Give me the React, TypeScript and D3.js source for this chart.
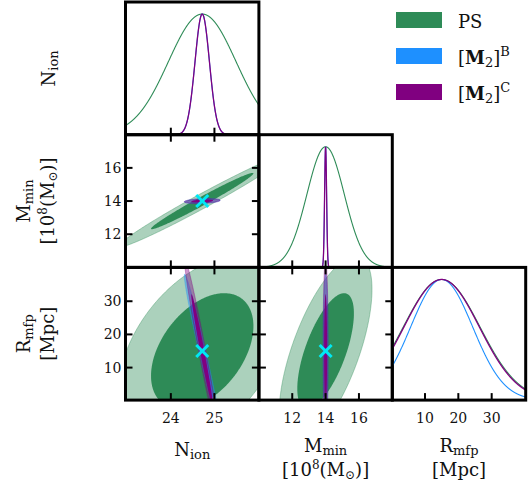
import React from "react";
import * as d3 from "d3";

// ---------- data ----------
const PARAM_KEYS = ["N_ion", "M_min", "R_mfp"];
const FIDUCIAL = [24.72, 14.0, 15.0];
const DOMAIN_LO = [22.96, 10.0, 0.2];
const DOMAIN_HI = [26.02, 18.0, 40.2];
const TICKS_N = [24, 25];
const TICKS_M = [12, 14, 16];
const TICKS_R = [10, 20, 30];

const SERIES_NAMES = ["PS", "M2B", "M2C"];
const SERIES_COLORS = ["#2e8b57", "#1e90ff", "#800080"];
// 1-sigma widths per parameter [N_ion, M_min, R_mfp]
const SIGMA_PS = [0.775, 1.12, 11.5];
const SIGMA_B = [0.165, 0.06, 9.3];
const SIGMA_C = [0.165, 0.06, 11.3];
// correlations [N-M, N-R, M-R]
const CORR_PS = [0.984, 0.43, 0.65];
const CORR_B = [0.3, -0.98, 0.0];
const CORR_C = [0.3, -0.98, 0.0];
const CONTOUR_PROBS = [0.9545, 0.6827];

// ---------- layout ----------
const COL_X = [125.5, 258.9, 392.3];
const ROW_Y = [2, 134.7, 267.4];
const PW = 133.4;
const PH = 132.7;
const FONT = "'DejaVu Serif', serif";

const TICKS = [TICKS_N, TICKS_M, TICKS_R];
const SIGMAS = [SIGMA_PS, SIGMA_B, SIGMA_C];
const CORRS = [CORR_PS, CORR_B, CORR_C];

function corrIndex(a: number, b: number) {
  const lo = Math.min(a, b), hi = Math.max(a, b);
  if (lo === 0 && hi === 1) return 0;
  if (lo === 0 && hi === 2) return 1;
  return 2;
}

function xScale(j: number) {
  return d3.scaleLinear().domain([DOMAIN_LO[j], DOMAIN_HI[j]]).range([COL_X[j], COL_X[j] + PW]);
}
function yScale(i: number) {
  return d3.scaleLinear().domain([DOMAIN_LO[i], DOMAIN_HI[i]]).range([ROW_Y[i] + PH, ROW_Y[i]]);
}

function ellipsePath(s: number, j: number, i: number, prob: number) {
  const k = Math.sqrt(-2 * Math.log(1 - prob));
  const sx = SIGMAS[s][j], sy = SIGMAS[s][i];
  const rho = CORRS[s][corrIndex(i, j)];
  const mx = FIDUCIAL[j], my = FIDUCIAL[i];
  const xs = xScale(j), ys = yScale(i);
  const pts: [number, number][] = d3.range(0, 360).map((deg) => {
    const t = (deg * Math.PI) / 180;
    const c = Math.cos(t), sn = Math.sin(t);
    const x = mx + k * sx * c;
    const y = my + k * sy * (rho * c + Math.sqrt(1 - rho * rho) * sn);
    return [xs(x), ys(y)];
  });
  return d3.line().curve(d3.curveLinearClosed)(pts) as string;
}

function marginalPath(s: number, j: number) {
  const xs = xScale(j);
  const ys = d3.scaleLinear().domain([0, 1.1]).range([ROW_Y[j] + PH, ROW_Y[j]]);
  const mu = FIDUCIAL[j], sg = SIGMAS[s][j];
  const n = 1200;
  const pts: [number, number][] = d3.range(n + 1).map((q) => {
    const x = DOMAIN_LO[j] + ((DOMAIN_HI[j] - DOMAIN_LO[j]) * q) / n;
    const v = Math.exp(-0.5 * ((x - mu) / sg) ** 2);
    return [xs(x), ys(v)];
  });
  return d3.line()(pts) as string;
}

function lighten(c: string, a: number) {
  const col = d3.rgb(c);
  return d3.rgb(255 - a * (255 - col.r), 255 - a * (255 - col.g), 255 - a * (255 - col.b)).formatHex();
}

function Panel2D({ i, j }: { i: number; j: number }) {
  const id = `clip-${i}-${j}`;
  const xs = xScale(j), ys = yScale(i);
  const x0 = COL_X[j], y0 = ROW_Y[i];
  const tl = 7;
  return (
    <g>
      <clipPath id={id}>
        <rect x={x0} y={y0} width={PW} height={PH} />
      </clipPath>
      <g clipPath={`url(#${id})`}>
        {SERIES_NAMES.map((_, s) => (
          <g key={s}>
            <path
              d={ellipsePath(s, j, i, CONTOUR_PROBS[0])}
              fill={s === 0 ? lighten(SERIES_COLORS[s], 0.4) : SERIES_COLORS[s]}
              fillOpacity={s === 0 ? 1 : 0.4}
              stroke={SERIES_COLORS[s]}
              strokeOpacity={0.45}
              strokeWidth={0.8}
            />
            <path d={ellipsePath(s, j, i, CONTOUR_PROBS[1])} fill={SERIES_COLORS[s]} stroke="none" />
          </g>
        ))}
        <g stroke="#00e8f4" strokeWidth={3} strokeLinecap="butt">
          <line x1={xs(FIDUCIAL[j]) - 6} y1={ys(FIDUCIAL[i]) - 6} x2={xs(FIDUCIAL[j]) + 6} y2={ys(FIDUCIAL[i]) + 6} />
          <line x1={xs(FIDUCIAL[j]) - 6} y1={ys(FIDUCIAL[i]) + 6} x2={xs(FIDUCIAL[j]) + 6} y2={ys(FIDUCIAL[i]) - 6} />
        </g>
      </g>
      <g stroke="#000" strokeWidth={2}>
        {TICKS[j].map((t) => (
          <g key={"x" + t}>
            <line x1={xs(t)} x2={xs(t)} y1={y0 + PH} y2={y0 + PH - tl} />
            <line x1={xs(t)} x2={xs(t)} y1={y0} y2={y0 + tl} />
          </g>
        ))}
        {TICKS[i].map((t) => (
          <g key={"y" + t}>
            <line y1={ys(t)} y2={ys(t)} x1={x0} x2={x0 + tl} />
            <line y1={ys(t)} y2={ys(t)} x1={x0 + PW} x2={x0 + PW - tl} />
          </g>
        ))}
      </g>
      <rect x={x0} y={y0} width={PW} height={PH} fill="none" stroke="#000" strokeWidth={3} />
    </g>
  );
}

function Panel1D({ j }: { j: number }) {
  const id = `clipm-${j}`;
  const xs = xScale(j);
  const x0 = COL_X[j], y0 = ROW_Y[j];
  return (
    <g>
      <clipPath id={id}>
        <rect x={x0} y={y0} width={PW} height={PH} />
      </clipPath>
      <g clipPath={`url(#${id})`} fill="none">
        {SERIES_NAMES.map((_, s) => (
          <path key={s} d={marginalPath(s, j)} stroke={SERIES_COLORS[s]} strokeWidth={s === 2 ? 1.3 : 1.1} />
        ))}
      </g>
      <g stroke="#000" strokeWidth={2}>
        {TICKS[j].map((t) => (
          <line key={t} x1={xs(t)} x2={xs(t)} y1={y0 + PH} y2={y0 + PH - 7} />
        ))}
      </g>
      <rect x={x0} y={y0} width={PW} height={PH} fill="none" stroke="#000" strokeWidth={3} />
    </g>
  );
}

function Sub({ t }: { t: string }) {
  return (
    <tspan fontSize={13} dy={3}>
      {t}
    </tspan>
  );
}

function ParamLabel({ p }: { p: number }) {
  if (p === 0)
    return (
      <>
        N<Sub t="ion" />
      </>
    );
  if (p === 1)
    return (
      <>
        M<Sub t="min" />
      </>
    );
  return (
    <>
      R<Sub t="mfp" />
    </>
  );
}

function UnitLabel({ p }: { p: number }) {
  if (p === 1)
    return (
      <>
        [10
        <tspan fontSize={12} dy={-7}>
          8
        </tspan>
        <tspan dy={7}>(M</tspan>
        <tspan fontSize={12} dy={3}>
          ⊙
        </tspan>
        <tspan dy={-3}>)]</tspan>
      </>
    );
  return <>[Mpc]</>;
}

export default function App() {
  const bottomY = ROW_Y[2] + PH;
  return (
    <svg
      width={532}
      height={487}
      style={{ position: "absolute", left: 0, top: 0, background: "#fff" }}
      fontFamily={FONT}
    >
      <rect x={0} y={0} width={532} height={487} fill="#fff" />
      {PARAM_KEYS.map((_, i) =>
        PARAM_KEYS.map((__, j) => {
          if (j > i) return null;
          if (i === j) return <Panel1D key={`${i}${j}`} j={j} />;
          return <Panel2D key={`${i}${j}`} i={i} j={j} />;
        })
      )}
      {/* x tick labels */}
      {PARAM_KEYS.map((_, j) =>
        TICKS[j].map((t) => (
          <text key={`xt${j}${t}`} x={xScale(j)(t)} y={bottomY + 23} fontSize={14} textAnchor="middle" fill="#111">
            {t}
          </text>
        ))
      )}
      {/* y tick labels */}
      {[1, 2].map((i) =>
        TICKS[i].map((t) => (
          <text key={`yt${i}${t}`} x={COL_X[0] - 4} y={yScale(i)(t)} dy="0.36em" fontSize={14} textAnchor="end" fill="#111">
            {t}
          </text>
        ))
      )}
      {/* bottom axis labels */}
      <text x={COL_X[0] + PW / 2} y={456} fontSize={18} textAnchor="middle" fill="#111">
        <ParamLabel p={0} />
      </text>
      {[1, 2].map((p) => (
        <g key={"bl" + p}>
          <text x={COL_X[p] + PW / 2} y={452} fontSize={18} textAnchor="middle" fill="#111">
            <ParamLabel p={p} />
          </text>
          <text x={COL_X[p] + PW / 2} y={476} fontSize={18} textAnchor="middle" fill="#111">
            <UnitLabel p={p} />
          </text>
        </g>
      ))}
      {/* left axis labels */}
      <text transform={`translate(55,${ROW_Y[0] + PH / 2}) rotate(-90)`} fontSize={18} textAnchor="middle" fill="#111">
        <ParamLabel p={0} />
      </text>
      {[1, 2].map((p) => (
        <g key={"ll" + p}>
          <text transform={`translate(30,${ROW_Y[p] + PH / 2}) rotate(-90)`} fontSize={18} textAnchor="middle" fill="#111">
            <ParamLabel p={p} />
          </text>
          <text transform={`translate(54,${ROW_Y[p] + PH / 2}) rotate(-90)`} fontSize={18} textAnchor="middle" fill="#111">
            <UnitLabel p={p} />
          </text>
        </g>
      ))}
      {/* legend */}
      {SERIES_NAMES.map((name, s) => (
        <g key={"lg" + name}>
          <rect x={396} y={12 + 36 * s} width={46} height={16} fill={SERIES_COLORS[s]} />
          <text x={458} y={28 + 36 * s} fontSize={18} fill="#111">
            {s === 0 ? (
              "PS"
            ) : (
              <>
                [<tspan fontWeight="bold">M</tspan>
                <tspan fontSize={13} dy={3}>
                  2
                </tspan>
                <tspan dy={-3}>]</tspan>
                <tspan fontSize={13} dy={-8}>
                  {s === 1 ? "B" : "C"}
                </tspan>
              </>
            )}
          </text>
        </g>
      ))}
    </svg>
  );
}
